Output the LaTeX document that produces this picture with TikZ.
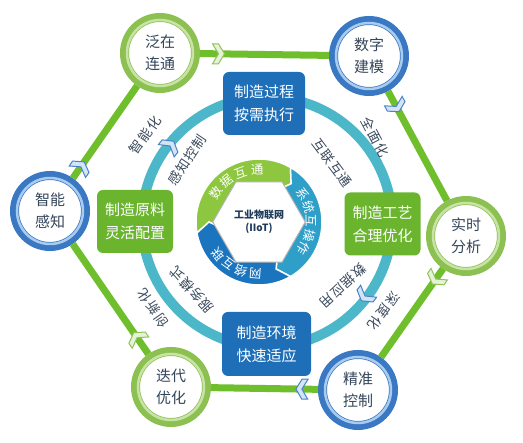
\documentclass[tikz,border=0pt]{standalone}
\usepackage{fontspec}
\setmainfont{Noto Sans CJK SC}
\newfontfamily\outerfont[LetterSpace=12]{Noto Sans CJK SC}
\newfontfamily\innerfont[LetterSpace=6]{Noto Sans CJK SC}
\usetikzlibrary{shapes.geometric}

\definecolor{hexgreen}{HTML}{6FBE2C}
\definecolor{ringgreen}{HTML}{8CC152}
\definecolor{ringgreenlt}{HTML}{C9E3A6}
\definecolor{ringblue}{HTML}{3A78C3}
\definecolor{ringbluelt}{HTML}{A9CBEE}
\definecolor{boxblue}{HTML}{1E6FB8}
\definecolor{boxgreen}{HTML}{6AB42E}
\definecolor{ringteal}{HTML}{4BB7C8}
\definecolor{coregreen}{HTML}{8DC63F}
\definecolor{coreteal}{HTML}{2E9FC9}
\definecolor{coreblue}{HTML}{1B75BE}
\definecolor{chevbfill}{HTML}{D2E4F6}
\definecolor{chevbdraw}{HTML}{4A84C6}
\definecolor{chevgfill}{HTML}{E6F2D6}
\definecolor{chevgdraw}{HTML}{8FC45A}
\definecolor{circtext}{HTML}{34465A}
\definecolor{lbltext}{HTML}{3B4A5C}
\definecolor{coretxt}{HTML}{1F3A5A}

\tikzset{
  hexline/.style={line width=7pt, hexgreen},
  gcirc/.style={circle, minimum size=71pt, line width=9pt, draw=ringgreen, fill=white,
    align=center, text=circtext, font=\fontsize{15}{22}\selectfont},
  bcirc/.style={gcirc, draw=ringblue},
  bbox/.style={rectangle, rounded corners=6pt, fill=boxblue, text=white, align=center,
    minimum width=82pt, minimum height=63pt, font=\fontsize{15}{23}\selectfont},
  gbox/.style={bbox, fill=boxgreen, minimum width=76pt},
  outerlbl/.style={text=lbltext, font=\outerfont\fontsize{13.5}{14}\selectfont},
  innerlbl/.style={text=lbltext, font=\innerfont\fontsize{13.5}{14}\selectfont},
  coretext/.style={text=white, inner sep=0pt, font=\fontsize{12.5}{12.5}\selectfont},
  chev/.pic={\filldraw[line width=1pt, pic actions] (-6,10) -- (0,10) -- (6,0) -- (0,-10) -- (-6,-10) -- (0,0) -- cycle;}
}

\begin{document}
\begin{tikzpicture}[x=1pt,y=1pt]
  \useasboundingbox (0,0) rectangle (523,443);

  % Inner teal ring
  \draw[ringteal, line width=10pt] (267,221) circle[radius=125pt];

  % Outer circles
  \node[gcirc] (fz) at (160,390) {泛在\\连通};
  \node[bcirc] (sz) at (369,387) {数字\\建模};
  \node[gcirc] (ss) at (466,207) {实时\\分析};
  \node[bcirc] (jz) at (358,53) {精准\\控制};
  \node[gcirc] (dd) at (171,56) {迭代\\优化};
  \node[bcirc] (zn) at (50,232) {智能\\感知};
  \foreach \n in {fz,ss,dd} \draw[ringgreenlt, line width=2.5pt] (\n) circle[radius=33pt];
  \foreach \n in {sz,jz,zn} \draw[ringbluelt, line width=2.5pt] (\n) circle[radius=33pt];

  % Hexagon lines
  \foreach \a/\b in {fz/sz, sz/ss, ss/jz, jz/dd, dd/zn, zn/fz}
    \draw[hexline] (\a) -- (\b);

  % Chevrons
  \pic[fill=chevgfill, draw=chevgdraw] at (218.5,389.2) {chev};
  \pic[rotate=-61.7, fill=chevbfill, draw=chevbdraw] at (396.2,336.6) {chev};
  \pic[rotate=-125, fill=chevgfill, draw=chevgdraw] at (435.8,163.9) {chev};
  \pic[rotate=179, fill=chevbfill, draw=chevbdraw] at (301.9,53.9) {chev};
  \pic[rotate=124.5, fill=chevgfill, draw=chevgdraw] at (137.1,105.3) {chev};
  \pic[rotate=55.2, fill=chevbfill, draw=chevbdraw] at (80.8,276.2) {chev};
  \pic[rotate=52, fill=chevbfill, draw=chevbdraw] at (170,297) {chev};
  \pic[rotate=-127, fill=chevbfill, draw=chevbdraw] at (365,147) {chev};

  % Boxes
  \node[bbox] (gc) at (264,339.5) {制造过程\\按需执行};
  \node[gbox] (gy) at (382.5,219) {制造工艺\\合理优化};
  \node[gbox] (yl) at (135,221.5) {制造原料\\灵活配置};
  \node[bbox, minimum width=89pt, minimum height=64pt] (hj) at (266.5,99) {制造环境\\快速适应};

  % Labels
  \node[outerlbl, rotate=55] (znh) at (145,308) {智能化};
  \node[outerlbl, rotate=-62] (qmh) at (375,306) {全面化};
  \node[outerlbl, rotate=-125] (sdh) at (384,132) {深度化};
  \node[outerlbl, rotate=124.5] (cxh) at (153,135) {创新化};
  \node[innerlbl, rotate=56] (gzkz) at (187,283) {感知控制};
  \node[innerlbl, rotate=-53] (hlht) at (332,280) {互联互通};
  \node[innerlbl, rotate=-137] (sjyy) at (343,157) {数据应用};
  \node[innerlbl, rotate=132] (fwms) at (192,153) {服务模式};

  % Core ring
  \begin{scope}[shift={(259,221)}]
    \filldraw[fill=coregreen, draw=white, line width=1.5pt] (190:63pt) arc[start angle=190, end angle=60, radius=63pt]
      -- (50:50pt) -- (60:37pt) arc[start angle=60, end angle=190, radius=37pt] -- (180:50pt) -- cycle;
    \filldraw[fill=coreteal, draw=white, line width=1.5pt] (60:63pt) arc[start angle=60, end angle=-60, radius=63pt]
      -- (-70:50pt) -- (-60:37pt) arc[start angle=-60, end angle=60, radius=37pt] -- (50:50pt) -- cycle;
    \filldraw[fill=coreblue, draw=white, line width=1.5pt] (-60:63pt) arc[start angle=-60, end angle=-170, radius=63pt]
      -- (-180:50pt) -- (-170:37pt) arc[start angle=-170, end angle=-60, radius=37pt] -- (-70:50pt) -- cycle;
    \foreach \ch/\a [count=\i] in {数/146, 据/128, 互/110, 通/92}
      \node[coretext, rotate=\a-90] (sj\i) at (\a:52pt) {\ch};
    \foreach \ch/\a [count=\i] in {系/33, 统/17, 互/1, 操/-15, 作/-31}
      \node[coretext, rotate=\a-90] (xt\i) at (\a:52pt) {\ch};
    \foreach \ch/\a [count=\i] in {网/266, 络/250, 互/234, 联/218}
      \node[coretext, rotate=\a-90] (wl\i) at (\a:52pt) {\ch};
    \node[regular polygon, regular polygon sides=6, minimum size=68pt, draw=gray!60, fill=white,
      line width=1pt, align=center, text=coretxt, font=\bfseries\fontsize{10}{13}\selectfont] (core) at (0,0) {工业物联网\\(IIoT)};
  \end{scope}
\end{tikzpicture}
\end{document}
